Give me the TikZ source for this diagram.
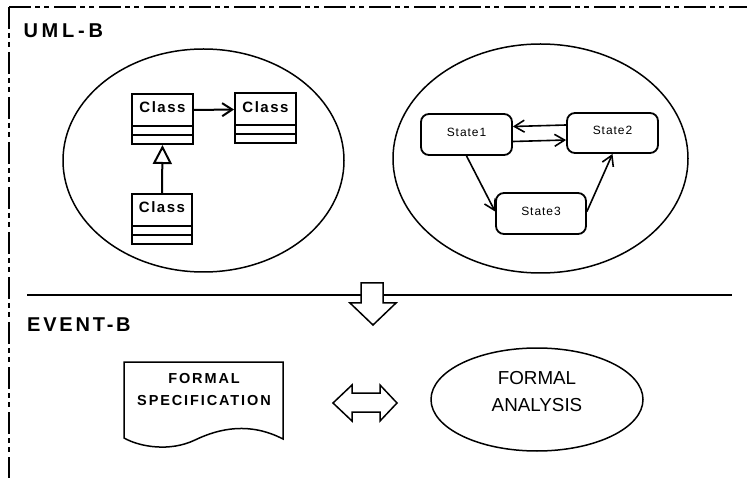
\documentclass[tikz,border=0pt]{standalone}
\usepackage{fontspec}
\setmainfont{Liberation Sans}
\usetikzlibrary{shapes.geometric, arrows.meta}

\begin{document}
\begin{tikzpicture}[x=1pt, y=-1pt,
  frameline/.style={line width=1.8pt, dash pattern=on 22pt off 4pt on 5pt off 4pt on 5pt off 5pt},
  heading/.style={anchor=base west, inner sep=0},
  classbox/.style={draw, line width=2pt, minimum width=61pt, minimum height=50pt,
    inner sep=0, text height=11pt, text depth=23.6pt,
    font=\fontsize{15}{18}\selectfont\bfseries\addfontfeatures{LetterSpace=10},
    path picture={
      \draw[line width=2pt] ([yshift=18pt]path picture bounding box.south west)
        -- ([yshift=18pt]path picture bounding box.south east);
      \draw[line width=2pt] ([yshift=9pt]path picture bounding box.south west)
        -- ([yshift=9pt]path picture bounding box.south east);
    }},
  statebox/.style={draw, line width=1.8pt, rounded corners=8pt, minimum width=91pt,
    minimum height=41pt, inner sep=0, text height=8.6pt, text depth=5pt,
    font=\fontsize{12}{14}\selectfont\addfontfeatures{LetterSpace=8}},
  region/.style={draw, ellipse, line width=1.5pt, inner sep=0},
  assoc/.style={line width=2pt, -{Straight Barb[length=10pt, width=13pt]}},
  inherit/.style={line width=2pt, -{Triangle[open, length=19pt, width=19pt, fill=white]}},
  trans/.style={line width=1.6pt, -{Straight Barb[length=10pt, width=12pt]}},
  blockarrow/.style={draw, fill=white, line width=1.5pt, line join=miter},
]
\useasboundingbox (0,0) rectangle (747,478);
\clip (0,0) rectangle (747,478);

% dash-dotted outer frame
\draw[frameline] (9,7) -- (9,490);
\draw[frameline] (9,7) -- (760,7);

% section headings
\node[heading, font=\fontsize{20}{24}\selectfont\bfseries\addfontfeatures{LetterSpace=19}]
  (umlb) at (23.3,37.3) {UML-B};
\node[heading, font=\fontsize{20}{24}\selectfont\bfseries\addfontfeatures{LetterSpace=14}]
  (eventb) at (27,331.7) {EVENT-B};

% class diagram region
\node[region, minimum width=281pt, minimum height=223pt] (classreg) at (203.5,160.5) {};
\node[classbox] (c1) at (162.5,119) {Class};
\node[classbox] (c2) at (265.5,118.5) {Class};
\node[classbox, minimum width=60pt] (c3) at (162,219) {Class};
\draw[assoc] ([yshift=9pt]c1.east) -- ([yshift=9pt]c2.west);
\draw[inherit] (c3.north) -- (c1.south);

% state machine region
\node[region, minimum width=295pt, minimum height=229pt] (statereg) at (540.5,158.5) {};
\node[statebox] (s1) at (466.5,134.5) {State1};
\node[statebox, minimum height=40pt] (s2) at (612.5,133) {State2};
\node[statebox, minimum width=90pt] (s3) at (541,213.5) {State3};
\draw[trans] ([yshift=8pt]s2.west) -- ([yshift=8pt]s1.east);
\draw[trans] ([yshift=-7pt]s1.east) -- ([yshift=-7pt]s2.west);
\draw[trans] (s1.south) -- ([yshift=2pt]s3.west);
\draw[trans] ([yshift=2pt]s3.east) -- (s2.south);

% separator and translation arrow
\coordinate (sepL) at (27,295);
\coordinate (sepR) at (732,295);
\draw[line width=1.8pt] (sepL) -- (sepR);
\draw[blockarrow] (361,283) -- (383,283) -- (383,303) -- (396,303) -- (373,325)
  -- (350,303) -- (361,303) -- cycle;

% Event-B part
\draw[line width=1.5pt, line join=miter] (124,362) -- (283,362) -- (283,439)
  .. controls (250,422) and (220,428) .. (195,440)
  .. controls (170,452) and (140,447) .. (124,438) -- cycle;
\node[align=center, anchor=base, inner sep=0,
  font=\fontsize{14.5}{22}\selectfont\bfseries\addfontfeatures{LetterSpace=13}]
  (spec) at (204,405) {FORMAL\\SPECIFICATION};

\draw[blockarrow] (333,403) -- (352,385) -- (352,393) -- (380,393) -- (380,385)
  -- (397,403) -- (380,421) -- (380,412) -- (352,412) -- (352,421) -- cycle;

\node[region, minimum width=212pt, minimum height=103pt] (ana) at (537,399.5) {};
\node[align=center, inner sep=0, font=\fontsize{18.8}{27}\selectfont]
  (anatext) at ([yshift=8pt]ana.center) {FORMAL\\ANALYSIS};
\end{tikzpicture}
\end{document}
